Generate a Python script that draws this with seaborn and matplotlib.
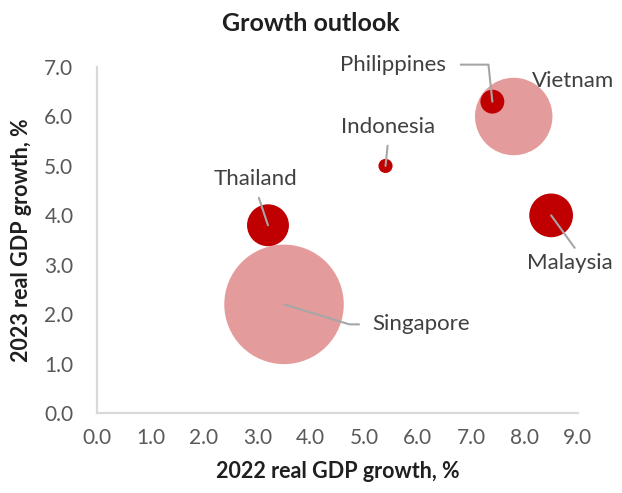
import pandas as pd
import matplotlib.pyplot as plt
import seaborn as sns

# Dados
countries = ['Singapore', 'Thailand', 'Indonesia', 'Philippines', 'Vietnam', 'Malaysia']
growth_2022 = [3.5, 3.2, 5.4, 7.4, 7.8, 8.5]
growth_2023 = [2.2, 3.8, 5.0, 6.3, 6.0, 4.0]
bubble = [100, 12.3, 1.4, 4.0, 42, 13.4]
group = ['light', 'dark', 'dark', 'dark', 'light', 'dark']

df = pd.DataFrame({'country': countries, 'x': growth_2022, 'y': growth_2023,
                   'bubble': bubble, 'group': group})

sns.set_theme(style='white')
plt.rcParams['font.family'] = ['Lato', 'DejaVu Sans']

fig = plt.figure(figsize=(6.22, 4.93), dpi=100)
ax = fig.add_axes([0.156, 0.162, 0.773, 0.702])

# bolhas maiores primeiro, para as pequenas ficarem por cima
palette = {'dark': '#C00000', 'light': '#E49B9B'}
sns.scatterplot(data=df.sort_values('bubble', ascending=False), x='x', y='y',
                hue='group', palette=palette,
                size='bubble', sizes=(0, 7400), size_norm=(0, 100),
                linewidth=0, alpha=1, legend=False, ax=ax, zorder=2)

ax.set_xlim(0, 9)
ax.set_ylim(0, 7)
ax.set_xticks(range(10))
ax.set_yticks(range(8))
ax.set_xticklabels([f'{i:.1f}' for i in range(10)])
ax.set_yticklabels([f'{i:.1f}' for i in range(8)])
ax.tick_params(length=0, labelsize=15, labelcolor='#595959')
ax.tick_params(axis='x', pad=11)
ax.tick_params(axis='y', pad=17)

for s in ['top', 'right']:
    ax.spines[s].set_visible(False)
for s in ['left', 'bottom']:
    ax.spines[s].set_color('#D9D9D9')
    ax.spines[s].set_linewidth(1.6)

ax.set_xlabel('2022 real GDP growth, %', fontsize=15.5, fontweight='bold',
              color='#1F1F1F', labelpad=9)
ax.set_ylabel('2023 real GDP growth, %', fontsize=15.5, fontweight='bold',
              color='#1F1F1F', labelpad=9)
fig.suptitle('Growth outlook', fontsize=18, fontweight='bold',
             color='#1F1F1F', y=0.975)

# rótulos com linhas de chamada (deslocamento em pixels)
label_offsets = {
    'Singapore': (88, -20, 'left'),
    'Thailand': (-12, 46, 'center'),
    'Indonesia': (3, 39, 'center'),
    'Philippines': (-99, 37, 'center'),
    'Vietnam': (59, 35, 'center'),
    'Malaysia': (19, -48, 'center'),
}
line_kw = dict(arrowstyle='-', color='#A6A6A6', lw=1.5, shrinkB=0)
for _, r in df.iterrows():
    name = r['country']
    dx, dy, ha = label_offsets[name]
    txt_kw = dict(xy=(r['x'], r['y']), xytext=(dx, dy), textcoords='offset pixels',
                  ha=ha, va='center', fontsize=16, color='#404040', zorder=3)
    if name == 'Singapore':
        arrow = dict(connectionstyle='angle,angleA=0,angleB=-17,rad=0',
                     relpos=(0.0, 0.5), shrinkA=7, **line_kw)
    elif name == 'Philippines':
        arrow = dict(connectionstyle='angle,angleA=0,angleB=96,rad=0',
                     relpos=(1.0, 0.5), shrinkA=8, **line_kw)
    elif name == 'Malaysia':
        arrow = dict(relpos=(0.6, 1.0), shrinkA=2, **line_kw)
    elif name == 'Vietnam':
        arrow = None
    else:
        arrow = dict(relpos=(0.5, 0.0), shrinkA=4, **line_kw)
    if arrow is None:
        ax.annotate(name, **txt_kw)
    else:
        ax.annotate(name, arrowprops=arrow, **txt_kw)

fig.savefig('out.png', dpi=100)
